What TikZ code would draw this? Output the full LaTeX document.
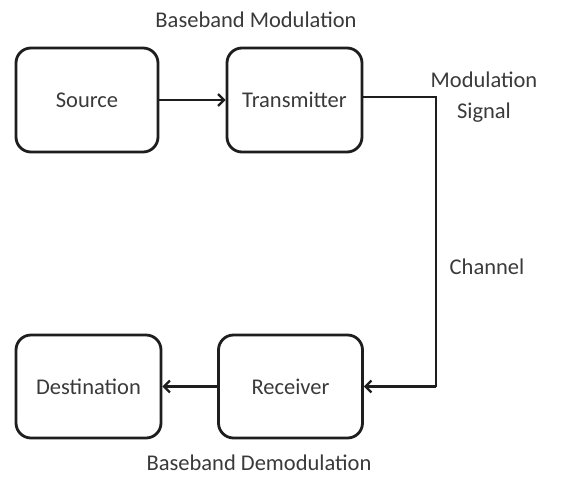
\documentclass[tikz,border=0pt]{standalone}
\usepackage{fontspec}
\setmainfont{Carlito}
\usetikzlibrary{arrows.meta}
\definecolor{txt}{HTML}{3A3A3A}
\definecolor{ln}{HTML}{1E1E1E}
\begin{document}
\begin{tikzpicture}[x=1pt,y=-1pt,
  blk/.style={draw=ln,line width=2.8pt,rounded corners=15pt,font=\fontsize{22.5}{26}\selectfont,text=txt,inner sep=0pt},
  lbl/.style={font=\fontsize{22.5}{31}\selectfont,text=txt,align=center,inner sep=0pt},
  arr/.style={draw=ln,line width=2.8pt,-{Straight Barb[length=6pt,width=12pt,line width=2.2pt]}},
  wire/.style={draw=ln,line width=2.8pt}]
\useasboundingbox[fill=white] (0,0) rectangle (561,477);
\node[blk,minimum width=142pt,minimum height=104pt] (src) at (87,100) {Source};
\node[blk,minimum width=135pt,minimum height=104pt] (tx) at (294.5,100) {Transmitter};
\node[blk,minimum width=145pt,minimum height=103pt] (dst) at (88.5,386.5) {Destination};
\node[blk,minimum width=144pt,minimum height=103pt] (rx) at (290.5,386.5) {Receiver};
\node[lbl] (bm) at (256,20) {Baseband Modulation};
\node[lbl] (ms) at (484,97) {Modulation\\Signal};
\node[lbl] (ch) at (487,267) {Channel};
\node[lbl] (bd) at (259,463) {Baseband Demodulation};
\coordinate (c1) at (436,97);
\coordinate (c2) at (436,386.5);
\draw[arr] (src) -- (tx);
\draw[wire] (tx.east |- c1) -- (c1) -- (c2);
\draw[arr] (c2) -- (rx.east);
\draw[arr] (rx) -- (dst);
\end{tikzpicture}
\end{document}
